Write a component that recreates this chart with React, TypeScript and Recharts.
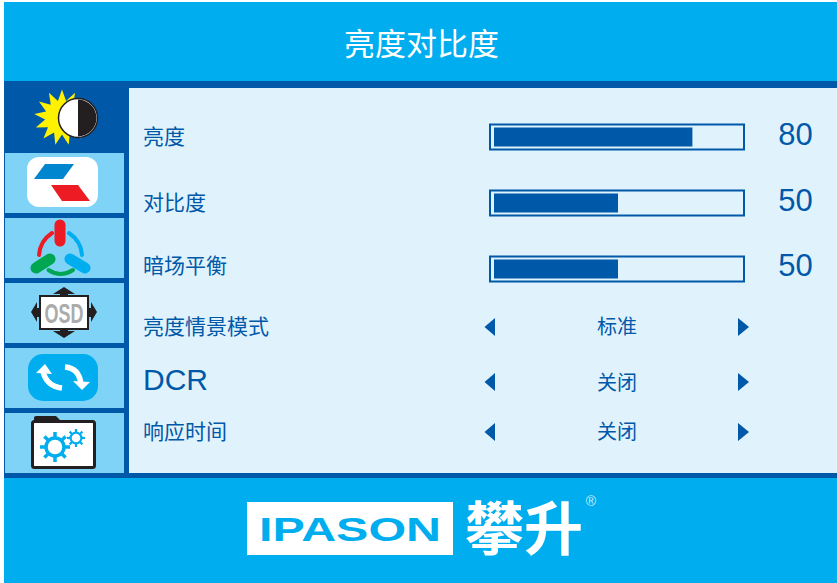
import React from 'react';
import { BarChart, Bar, XAxis, YAxis, LabelList } from 'recharts';

const sliderLabels = ['亮度', '对比度', '暗场平衡'];
const sliderValues = [80, 50, 50];
const optionLabels = ['亮度情景模式', 'DCR', '响应时间'];
const optionValues = ['标准', '关闭', '关闭'];

const W = 837;
const H = 583;
const DARK = '#0058A9';
const CYAN = '#00AEEF';
const PANEL = '#E0F3FC';
const TILE = '#7FD3F7';
const CJK = '"Noto Sans CJK SC", "Liberation Sans", sans-serif';
const ARIAL = '"Liberation Sans", Arial, sans-serif';

const chartData = sliderLabels.map((name, i) => ({ name, value: sliderValues[i] }));

// the third row's text sits a bit above its bar in the original
const labelShift = [0, 0, -3];
const valueShift = [-3, -3, -4];
const optionY = [327, 382, 432];
const optionTextY = [334, 390, 439];
const tileY = [153, 218, 283, 348, 413];

const starPoints = (cx: number, cy: number, r1: number, r2: number, n: number) => {
  const pts: string[] = [];
  for (let i = 0; i < n * 2; i++) {
    const r = i % 2 === 0 ? r1 : r2;
    const a = (Math.PI * i) / n - Math.PI / 2;
    pts.push(`${cx + r * Math.cos(a)},${cy + r * Math.sin(a)}`);
  }
  return pts.join(' ');
};

const Gear = ({ cx, cy, r, sw }: { cx: number; cy: number; r: number; sw: number }) => (
  <g stroke={CYAN} strokeWidth={sw} fill="none">
    <circle cx={cx} cy={cy} r={r * 0.6} />
    {[0, 45, 90, 135, 180, 225, 270, 315].map(a => {
      const t = (a * Math.PI) / 180;
      return (
        <line
          key={a}
          x1={cx + r * 0.6 * Math.cos(t)}
          y1={cy + r * 0.6 * Math.sin(t)}
          x2={cx + r * Math.cos(t)}
          y2={cy + r * Math.sin(t)}
        />
      );
    })}
  </g>
);

const Icons = () => (
  <g>
    {/* sun and half moon */}
    <polygon points={starPoints(62, 117.5, 28, 17, 13)} fill="#FFF200" />
    <circle cx={78} cy={118} r={19.5} fill="#fff" stroke="#231F20" strokeWidth={1.5} />
    <path d="M78 99.5 A18.5 18.5 0 0 1 78 136.5 Z" fill="#231F20" />

    {/* picture mode */}
    <rect x={27} y={157} width={71} height={50} rx={12} fill="#fff" />
    <polygon points="45,164 74,164 63,179 34,179" fill="#0086CF" />
    <polygon points="51,185 78,185 90,201 62,201" fill="#ED1C24" />

    {/* colour */}
    <line x1={60} y1={225} x2={60} y2={241} stroke="#ED1C24" strokeWidth={11} strokeLinecap="round" />
    <path d="M52 233 Q40 241 39 255" stroke="#ED1C24" strokeWidth={4} fill="none" strokeLinecap="round" />
    <path d="M69 233 Q81 241 82 255" stroke={CYAN} strokeWidth={4} fill="none" strokeLinecap="round" />
    <path d="M48.5 270 Q60.5 278 73 270" stroke="#00A651" strokeWidth={4} fill="none" strokeLinecap="round" />
    <line x1={36} y1={268} x2={50} y2={259} stroke="#00A651" strokeWidth={11} strokeLinecap="round" />
    <line x1={70} y1={259} x2={85} y2={268} stroke={CYAN} strokeWidth={11} strokeLinecap="round" />

    {/* OSD */}
    <g fill="#231F20">
      <polygon points="64,287 75,294 68,294 68,297 60,297 60,294 53,294" />
      <polygon points="64,338 75,331 68,331 68,328 60,328 60,331 53,331" />
      <polygon points="31,312 37,302 37,308 41,308 41,317 37,317 37,322" />
      <polygon points="97,312 91,302 91,308 87,308 87,317 91,317 91,322" />
    </g>
    <rect x={40} y={296} width={48} height={33} fill="#fff" stroke="#231F20" strokeWidth={2} />
    <text
      x={64}
      y={322.5}
      textAnchor="middle"
      fontFamily={ARIAL}
      fontWeight={700}
      fontSize={27}
      fill="#ABABAB"
      textLength={39}
      lengthAdjust="spacingAndGlyphs"
    >
      OSD
    </text>

    {/* reset */}
    <rect x={28} y={354} width={70} height={47} rx={15} fill={CYAN} />
    <path d="M62 388 Q46 386 43 371" stroke="#fff" strokeWidth={5.5} fill="none" />
    <polygon points="36,373 45,364 52,374" fill="#fff" />
    <path d="M65 367 Q79 368 81 384" stroke="#fff" strokeWidth={5.5} fill="none" />
    <polygon points="73,381 90,382 82,390" fill="#fff" />

    {/* settings folder */}
    <path d="M34 421 L34 418 Q34 416 36 416 L56 416 L60 420 Z" fill="#231F20" />
    <rect x={32.5} y={421.5} width={62} height={46} rx={2} fill="#fff" stroke="#231F20" strokeWidth={3} />
    <Gear cx={55} cy={447} r={15} sw={3.5} />
    <Gear cx={76} cy={438} r={9} sw={2.2} />
  </g>
);

const Logo = () => (
  <g>
    <rect x={247} y={502} width={206} height={53} fill="#fff" />
    <text
      x={259}
      y={541}
      fontFamily={ARIAL}
      fontWeight={700}
      fontSize={34}
      fill={CYAN}
      textLength={182}
      lengthAdjust="spacingAndGlyphs"
    >
      IPASON
    </text>
    <text x={465} y={550} fontFamily={CJK} fontWeight={700} fontSize={58} fill="#fff" textLength={118} lengthAdjust="spacingAndGlyphs">
      攀升
    </text>
    <text x={591} y={506} textAnchor="middle" fontFamily={ARIAL} fontSize={14} fill="#fff" fillOpacity={0.8}>
      ®
    </text>
  </g>
);

const Backdrop = () => (
  <svg width={W} height={H} style={{ position: 'absolute', left: 0, top: 0 }}>
    <rect x={4} y={2} width={W - 4} height={H - 2} fill={CYAN} />
    <rect x={4} y={81} width={W - 4} height={397} fill={DARK} />
    <rect x={129} y={88} width={W - 129} height={385} fill={PANEL} />
    {tileY.map(y => (
      <rect key={y} x={5} y={y} width={119} height={60} fill={TILE} />
    ))}
    <Icons />
    <text x={421.5} y={55} textAnchor="middle" fontFamily={CJK} fontSize={31} fill="#fff">
      亮度对比度
    </text>
    {optionLabels.map((label, i) => (
      <text
        key={label}
        x={143}
        y={optionY[i] + (label === 'DCR' ? 8 : 7)}
        fontFamily={label === 'DCR' ? ARIAL : CJK}
        fontSize={label === 'DCR' ? 30 : 21}
        fill={DARK}
      >
        {label}
      </text>
    ))}
    {optionValues.map((v, i) => (
      <g key={i}>
        <polygon
          points={`495,${optionY[i] - 9} 495,${optionY[i] + 9} 484.5,${optionY[i]}`}
          fill={DARK}
        />
        <polygon
          points={`738,${optionY[i] - 9} 738,${optionY[i] + 9} 749,${optionY[i]}`}
          fill={DARK}
        />
        <text x={617} y={optionTextY[i]} textAnchor="middle" fontFamily={CJK} fontSize={20} fill={DARK}>
          {v}
        </text>
      </g>
    ))}
    <Logo />
  </svg>
);

const SliderLabel = ({ y, payload, index }: any) => (
  <text x={143} y={y + 7 + labelShift[index]} fontFamily={CJK} fontSize={21} fill={DARK}>
    {payload.value}
  </text>
);

const SliderFrame = ({ x, y, height }: any) => (
  <rect x={x - 4} y={y - 3} width={254} height={height + 6} fill="none" stroke={DARK} strokeWidth={2} />
);

const SliderValue = ({ y, height, value, index }: any) => (
  <text
    x={795.5}
    y={y + height / 2 + 11 + valueShift[index]}
    textAnchor="middle"
    fontFamily={ARIAL}
    fontSize={31}
    fill={DARK}
  >
    {value}
  </text>
);

const App = () => (
  <div style={{ position: 'absolute', left: 0, top: 0, width: W, height: H, overflow: 'hidden', background: '#fff' }}>
    <Backdrop />
    <div style={{ position: 'absolute', left: 0, top: 0 }}>
      <BarChart
        width={W}
        height={H}
        data={chartData}
        layout="vertical"
        margin={{ top: 103.5, right: 95, bottom: 281.5, left: 143 }}
      >
        <XAxis type="number" domain={[0, 100]} hide />
        <YAxis
          type="category"
          dataKey="name"
          width={351}
          axisLine={false}
          tickLine={false}
          interval={0}
          tick={SliderLabel}
        />
        <Bar dataKey="value" fill={DARK} barSize={19} background={SliderFrame} isAnimationActive={false}>
          <LabelList dataKey="value" content={SliderValue} />
        </Bar>
      </BarChart>
    </div>
  </div>
);

export default App;
